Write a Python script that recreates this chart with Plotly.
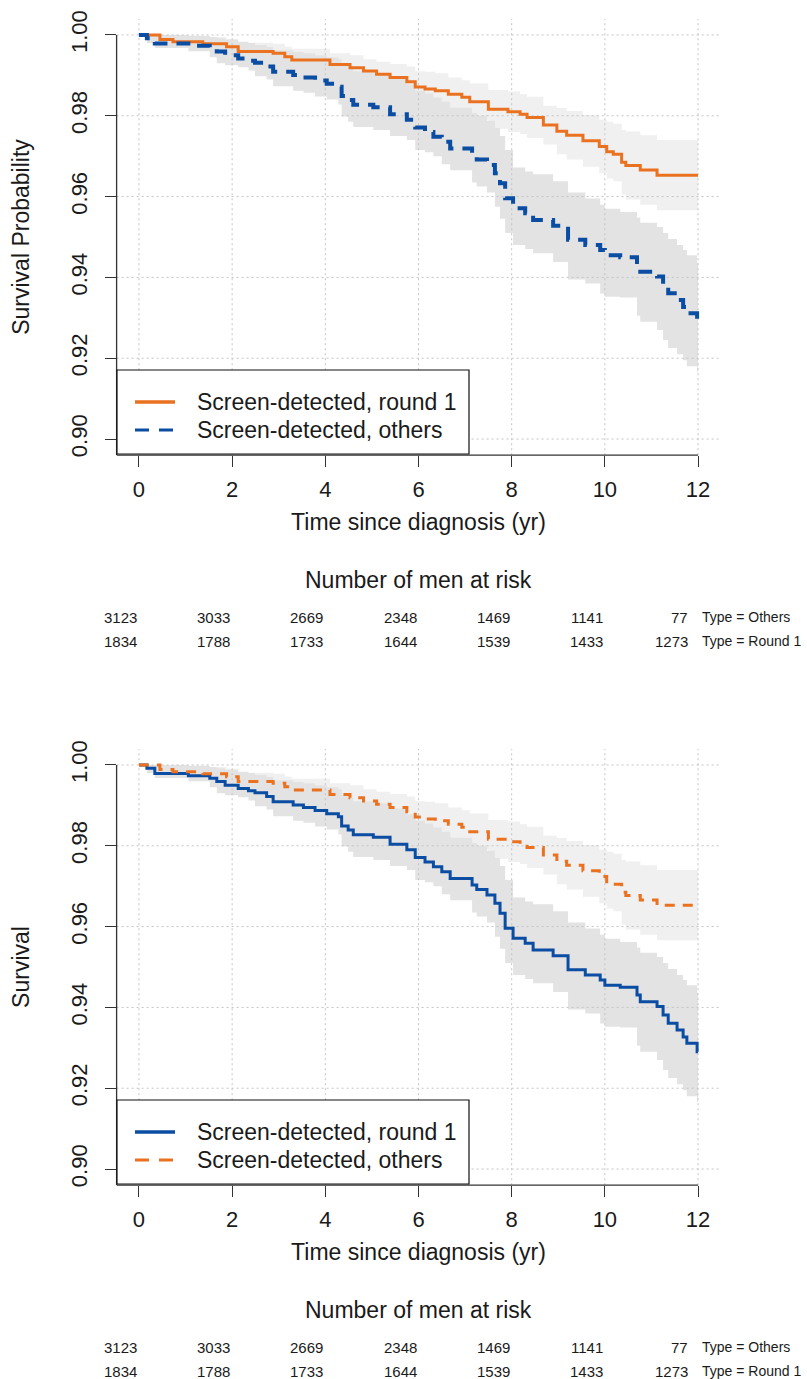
import plotly.graph_objects as go

# ---------------- data ----------------
# Curve A: screen-detected round 1 (upper curve)
t_a = [0, 0.45, 0.73, 1.37, 1.88, 2.13, 2.88, 3.13, 3.28, 4.1, 4.53, 4.82, 5.1, 5.39, 5.75, 5.93,
       6.14, 6.36, 6.64, 6.93, 7.1, 7.5, 7.92, 8.18, 8.33, 8.68, 8.97, 9.18, 9.53, 9.88, 10.04,
       10.18, 10.36, 10.45, 10.76, 11.12, 12]
s_a = [1.0, 0.9989, 0.9983, 0.9978, 0.9971, 0.9959, 0.9955, 0.9946, 0.9938, 0.9927, 0.9919, 0.9911,
       0.9903, 0.9895, 0.9884, 0.9871, 0.9866, 0.9862, 0.9853, 0.9846, 0.9835, 0.9816, 0.9810,
       0.9804, 0.9796, 0.9777, 0.9762, 0.9752, 0.9738, 0.9724, 0.9711, 0.9705, 0.9685, 0.9677,
       0.9666, 0.9653, 0.9653]
hi_a = [1.0, 1.0, 0.9998, 0.9995, 0.9990, 0.9981, 0.9978, 0.9971, 0.9966, 0.9955, 0.9950, 0.9940,
        0.9934, 0.9928, 0.9922, 0.9910, 0.9909, 0.9905, 0.9895, 0.9888, 0.9880, 0.9864, 0.9860,
        0.9853, 0.9847, 0.9825, 0.9819, 0.9812, 0.9802, 0.9790, 0.9785, 0.9780, 0.9765, 0.9761,
        0.9752, 0.9740, 0.9740]
lo_a = [1.0, 0.9978, 0.9968, 0.9961, 0.9952, 0.9937, 0.9932, 0.9921, 0.9910, 0.9899, 0.9888, 0.9882,
        0.9872, 0.9862, 0.9846, 0.9832, 0.9823, 0.9819, 0.9811, 0.9804, 0.9790, 0.9768, 0.9760,
        0.9755, 0.9745, 0.9729, 0.9705, 0.9692, 0.9674, 0.9658, 0.9645, 0.9638, 0.9605, 0.9593,
        0.9580, 0.9566, 0.9566]

# Curve B: screen-detected others (lower curve)
t_b = [0, 0.17, 0.34, 1.06, 1.52, 1.67, 1.85, 2.13, 2.35, 2.49, 2.74, 2.88, 3.31, 3.53, 3.78, 4.03,
       4.28, 4.35, 4.49, 4.6, 5.03, 5.39, 5.75, 5.93, 6.14, 6.32, 6.5, 6.68, 7.15, 7.25, 7.47, 7.64,
       7.75, 7.86, 8.03, 8.29, 8.46, 8.89, 9.21, 9.58, 9.9, 10.0, 10.33, 10.69, 10.76, 11.12, 11.25,
       11.36, 11.55, 11.68, 11.76, 11.98, 12]
s_b = [1.0, 0.9992, 0.9979, 0.9973, 0.9967, 0.9959, 0.9950, 0.9942, 0.9936, 0.9931, 0.9922, 0.9909,
       0.9901, 0.9895, 0.9887, 0.9879, 0.9872, 0.9849, 0.9839, 0.9827, 0.9821, 0.9804, 0.9790,
       0.9771, 0.9760, 0.9748, 0.9736, 0.9719, 0.9703, 0.9692, 0.9678, 0.9658, 0.9633, 0.9596,
       0.9571, 0.9559, 0.9542, 0.9528, 0.9493, 0.9480, 0.9468, 0.9455, 0.9450, 0.9431, 0.9414,
       0.9402, 0.9381, 0.9361, 0.9344, 0.9327, 0.9311, 0.9290, 0.9290]
hi_b = [1.0, 1.0, 1.0, 0.9998, 0.9995, 0.9992, 0.9988, 0.9983, 0.9980, 0.9975, 0.9970, 0.9962,
        0.9958, 0.9955, 0.9950, 0.9945, 0.9940, 0.9925, 0.9918, 0.9910, 0.9905, 0.9892, 0.9878,
        0.9862, 0.9855, 0.9845, 0.9835, 0.9820, 0.9807, 0.9800, 0.9788, 0.9770, 0.9750, 0.9715,
        0.9672, 0.9662, 0.9655, 0.9638, 0.9610, 0.9595, 0.9580, 0.9570, 0.9562, 0.9548, 0.9535,
        0.9525, 0.9510, 0.9495, 0.9480, 0.9468, 0.9455, 0.9436, 0.9436]
lo_b = [1.0, 0.9980, 0.9968, 0.9960, 0.9945, 0.9930, 0.9925, 0.9920, 0.9912, 0.9898, 0.9890, 0.9873,
        0.9862, 0.9857, 0.9848, 0.9840, 0.9828, 0.9798, 0.9785, 0.9772, 0.9765, 0.9750, 0.9740,
        0.9715, 0.9710, 0.9700, 0.9680, 0.9665, 0.9635, 0.9625, 0.9610, 0.9575, 0.9545, 0.9510,
        0.9480, 0.9470, 0.9460, 0.9438, 0.9395, 0.9385, 0.9360, 0.9352, 0.9350, 0.9305, 0.9290,
        0.9270, 0.9245, 0.9225, 0.9210, 0.9195, 0.9180, 0.9165, 0.9165]

risk_times = [0, 2, 4, 6, 8, 10, 12]
risk_others = [3123, 3033, 2669, 2348, 1469, 1141, 77]
risk_round1 = [1834, 1788, 1733, 1644, 1539, 1433, 1273]

x_ticks = [0, 2, 4, 6, 8, 10, 12]
y_ticks = [0.90, 0.92, 0.94, 0.96, 0.98, 1.00]
y_tick_text = ["0.90", "0.92", "0.94", "0.96", "0.98", "1.00"]

# ---------------- style ----------------
W, H = 807, 1379
ORANGE = "#E9711F"
BLUE = "#0B4DA2"
BAND_A = "#F0F0F0"
BAND_B = "#E3E3E3"
GRID = "#C4C4C4"
AXC = "#333333"
TXT = "#1a1a1a"
FONT = "Liberation Sans, Arial, Helvetica, sans-serif"
XR = [-0.48, 12.48]
YR = [0.896, 1.004]
PL, PR = 116.6, 720.4            # plot area left/right (px)
PT, PB = 18.8, 455.2             # top panel plot area top/bottom (px)
OFF = 730                        # vertical offset of second panel (px)

def px(x):
    return x / W

def py(y):
    return 1 - y / H

fig = go.Figure()

panels = [
    dict(xa="x", ya="y", off=0, ytitle="Survival Probability",
         curves=[("a", ORANGE, "solid", 3, "Screen-detected, round 1"),
                 ("b", BLUE, "14px,9px", 4, "Screen-detected, others")]),
    dict(xa="x2", ya="y2", off=OFF, ytitle="Survival",
         curves=[("b", BLUE, "solid", 3, "Screen-detected, round 1"),
                 ("a", ORANGE, "10px,8px", 3, "Screen-detected, others")]),
]
series = {"a": (t_a, s_a, lo_a, hi_a), "b": (t_b, s_b, lo_b, hi_b)}

for p in panels:
    xa, ya = p["xa"], p["ya"]
    # confidence bands
    for key, col in (("a", BAND_A), ("b", BAND_B)):
        t, s, lo, hi = series[key]
        fig.add_trace(go.Scatter(x=t, y=lo, mode="lines", line=dict(width=0, shape="hv"),
                                 hoverinfo="skip", showlegend=False, xaxis=xa, yaxis=ya))
        fig.add_trace(go.Scatter(x=t, y=hi, mode="lines", line=dict(width=0, shape="hv"),
                                 fill="tonexty", fillcolor=col, hoverinfo="skip",
                                 showlegend=False, xaxis=xa, yaxis=ya))
    # dotted grid drawn above the bands
    gx, gy = [], []
    for xv in x_ticks:
        gx += [xv, xv, None]
        gy += [YR[0], YR[1], None]
    for yv in y_ticks:
        gx += [XR[0], XR[1], None]
        gy += [yv, yv, None]
    fig.add_trace(go.Scatter(x=gx, y=gy, mode="lines", line=dict(color=GRID, width=1, dash="2px,3px"),
                             hoverinfo="skip", showlegend=False, xaxis=xa, yaxis=ya))
    # survival curves
    for key, col, dash, w, name in p["curves"]:
        t, s, lo, hi = series[key]
        fig.add_trace(go.Scatter(x=t, y=s, mode="lines", name=name,
                                 line=dict(color=col, width=w, dash=dash, shape="hv"),
                                 showlegend=False, xaxis=xa, yaxis=ya))

axis_common = dict(range=XR, tickvals=x_ticks, ticks="outside", ticklen=11, tickwidth=1.3,
                   tickcolor=AXC, showgrid=False, zeroline=False, showline=False,
                   ticklabelstandoff=3,
                   tickfont=dict(size=22, color=TXT, family=FONT), automargin=False,
                   fixedrange=True)
yaxis_common = dict(range=YR, tickvals=y_ticks, ticktext=y_tick_text, tickangle=-90,
                    ticks="outside", ticklen=11, tickwidth=1.3, tickcolor=AXC, showgrid=False,
                    zeroline=False, showline=False, ticklabelstandoff=9,
                    tickfont=dict(size=22, color=TXT, family=FONT), automargin=False,
                    fixedrange=True)

layout = dict(width=W, height=H, margin=dict(l=0, r=0, t=0, b=0),
              paper_bgcolor="white", plot_bgcolor="white",
              font=dict(family=FONT, color=TXT), showlegend=False)

shapes, annotations = [], []
for i, p in enumerate(panels):
    off = p["off"]
    xkey = "xaxis" if i == 0 else "xaxis2"
    ykey = "yaxis" if i == 0 else "yaxis2"
    layout[xkey] = dict(axis_common, domain=[px(PL), px(PR)], anchor=p["ya"],
                        title=dict(text="Time since diagnosis (yr)", standoff=13,
                                   font=dict(size=23, family=FONT, color=TXT)))
    layout[ykey] = dict(yaxis_common, domain=[py(PB + off), py(PT + off)], anchor=p["xa"],
                        title=dict(text=p["ytitle"], standoff=30,
                                   font=dict(size=23, family=FONT, color=TXT)))
    xr = p["xa"]
    yr = p["ya"]
    # axis lines (R style)
    shapes.append(dict(type="line", xref=xr + " domain", yref=yr, x0=0, x1=0, y0=YR[0], y1=1.0,
                       line=dict(color=AXC, width=1.3), layer="above"))
    shapes.append(dict(type="line", xref=xr, yref=yr + " domain", x0=XR[0], x1=12, y0=0, y1=0,
                       line=dict(color=AXC, width=1.3), layer="above"))
    # legend box
    shapes.append(dict(type="rect", xref="paper", yref="paper", x0=px(117), x1=px(469),
                       y0=py(454 + off), y1=py(370 + off), fillcolor="white",
                       line=dict(color="#111111", width=1.2), layer="above"))
    for j, (key, col, dash, w, name) in enumerate(p["curves"]):
        yy = 402 + 28 * j + off
        shapes.append(dict(type="line", xref="paper", yref="paper", x0=px(135), x1=px(175),
                           y0=py(yy), y1=py(yy), line=dict(color=col, width=3.5 if dash == "solid" else 3,
                           dash=dash if dash == "solid" else "14px,10px"), layer="above"))
        annotations.append(dict(text=name, xref="paper", yref="paper", x=px(195), y=py(yy),
                                xanchor="left", yanchor="middle", showarrow=False,
                                font=dict(size=23, family=FONT, color=TXT)))
    # risk table
    annotations.append(dict(text="Number of men at risk", xref=xr, yref="paper", x=6, y=py(580 + off),
                            xanchor="center", yanchor="middle", showarrow=False,
                            font=dict(size=23, family=FONT, color=TXT)))
    for row, (vals, lab) in enumerate(((risk_others, "Type = Others"), (risk_round1, "Type = Round 1"))):
        yy = 617 + 24 * row + off
        for tv, v in zip(risk_times, vals):
            annotations.append(dict(text=str(v), xref=xr, yref="paper", x=tv, y=py(yy),
                                    xanchor="right", yanchor="middle", showarrow=False,
                                    xshift=-8 if tv == 12 else 0,
                                    font=dict(size=15, family=FONT, color=TXT)))
        annotations.append(dict(text=lab, xref=xr, yref="paper", x=12, y=py(yy),
                                xanchor="left", yanchor="middle", showarrow=False, xshift=3,
                                borderpad=0,
                                font=dict(size=14, family=FONT, color=TXT)))

layout["shapes"] = shapes
layout["annotations"] = annotations
fig.update_layout(**layout)
fig.write_html("out.html", config={"displayModeBar": False},
               post_script="document.body.style.margin='0';document.body.style.padding='0';"
                           "document.body.style.overflow='hidden';")
